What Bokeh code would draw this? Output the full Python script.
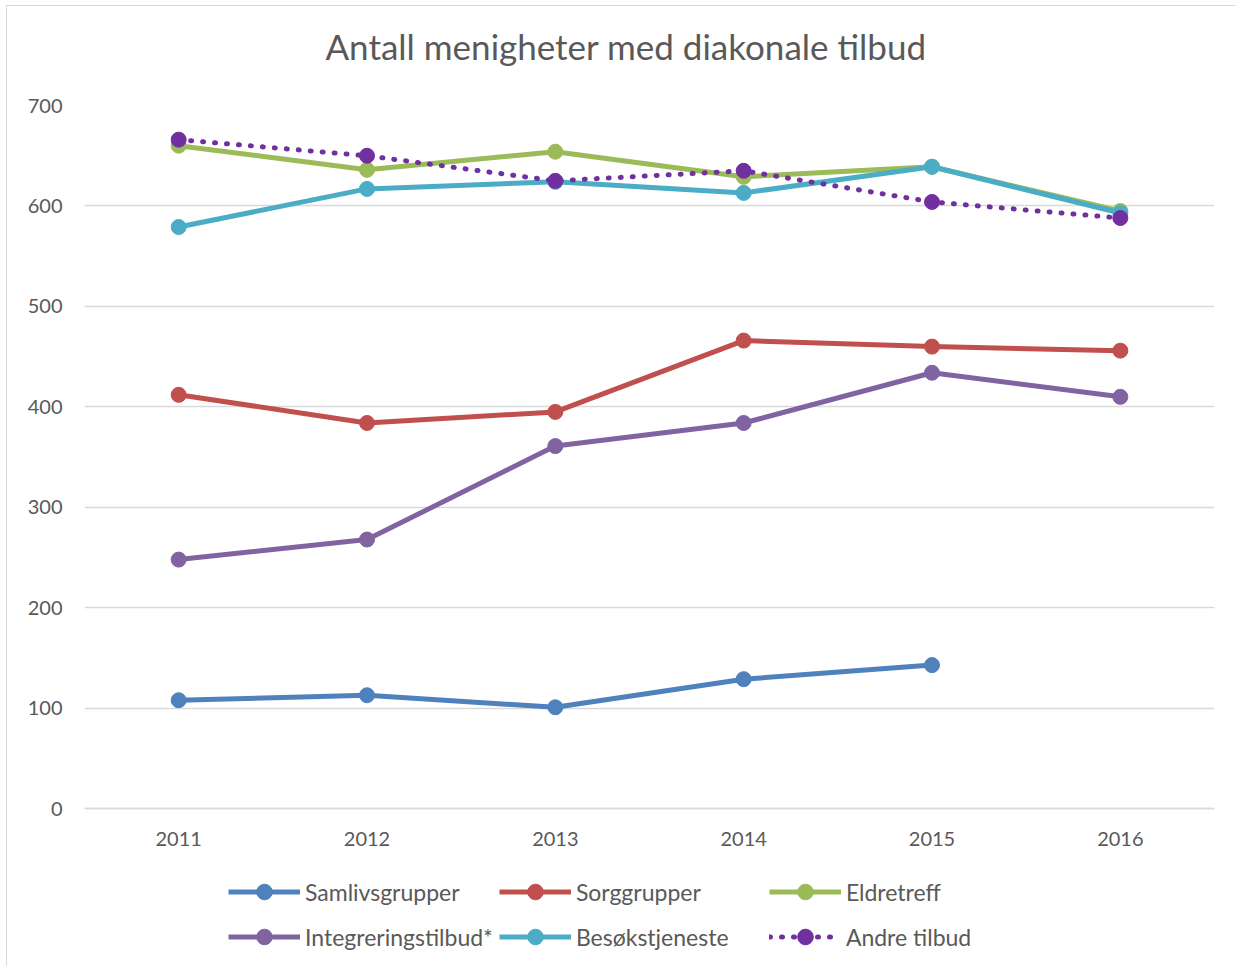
from bokeh.plotting import figure
from bokeh.models import Legend, LegendItem, Range1d, FactorRange, FixedTicker, Title
from bokeh.embed import file_html
from bokeh.resources import INLINE

years = ["2011", "2012", "2013", "2014", "2015", "2016"]
samliv = [108, 113, 101, 129, 143]
sorg = [412, 384, 395, 466, 460, 456]
eldre = [660, 636, 654, 629, 639, 595]
integrering = [248, 268, 361, 384, 434, 410]
besok = [579, 617, 624, 613, 639, 593]
andre = [666, 650, 625, 635, 604, 588]
y_ticks = [0, 100, 200, 300, 400, 500, 600, 700]

names = ["Samlivsgrupper", "Sorggrupper", "Eldretreff", "Integreringstilbud*", "Besøkstjeneste", "Andre tilbud"]
colors = ["#4F81BD", "#C0504D", "#9BBB59", "#8064A2", "#4BACC6", "#7030A0"]
title_text = "Antall menigheter med diakonale tilbud"

FONT = "Lato"
TXT = "#595959"

# frame extends below the value axis so that the legend can sit inside it
p = figure(x_range=FactorRange(*years, range_padding=0), y_range=Range1d(-158, 700),
           width=1230, height=961, output_backend="svg", toolbar_location=None,
           x_axis_location="above",
           min_border_left=77, min_border_right=23, min_border_top=99, min_border_bottom=0)
p.styles = {"border-left": "1px solid #d9d9d9", "border-top": "1px solid #d9d9d9",
            "margin-left": "6px", "margin-top": "5px"}

# spacer between the title and the plot area
p.add_layout(Title(text=" ", text_font_size="1px", standoff=36), "above")

p.title.text = title_text
p.title.align = "left"
p.title.offset = 241
p.title.text_font = FONT
p.title.text_font_size = "35px"
p.title.text_font_style = "normal"
p.title.text_color = TXT
p.title.standoff = 0

p.outline_line_color = None
p.yaxis.ticker = FixedTicker(ticks=y_ticks)
p.ygrid.ticker = FixedTicker(ticks=y_ticks)
p.ygrid.grid_line_color = "#d9d9d9"
p.ygrid.grid_line_width = 1.5
p.xgrid.grid_line_color = None
for ax in (p.xaxis, p.yaxis):
    ax.major_tick_line_color = None
    ax.minor_tick_line_color = None
    ax.major_label_text_font = FONT
    ax.major_label_text_font_size = "20px"
    ax.major_label_text_color = TXT
p.yaxis.axis_line_color = None
p.yaxis.major_label_standoff = 16
p.xaxis.fixed_location = 0
p.xaxis.axis_line_color = "#d9d9d9"
p.xaxis.axis_line_width = 1.5
p.xaxis.major_label_standoff = -43

series = [samliv, sorg, eldre, integrering, besok, andre]
items = []
for name, col, vals in zip(names, colors, series):
    xs = years[:len(vals)]
    if name == "Andre tilbud":
        l = p.line(xs, vals, line_color=col, line_width=5, line_dash="1 11", line_cap="round")
    else:
        l = p.line(xs, vals, line_color=col, line_width=5, line_join="round")
    c = p.scatter(xs, vals, size=15, fill_color=col, line_color=col)
    items.append(LegendItem(label=name, renderers=[l, c]))

legend = Legend(items=items, orientation="horizontal", ncols=3, location=(144, 11),
                label_text_font=FONT, label_text_font_size="23px", label_text_color=TXT,
                glyph_width=72, glyph_height=39, label_height=39, label_width=187,
                label_standoff=5, spacing=6, border_line_color=None,
                background_fill_alpha=0, margin=0, padding=0)
p.add_layout(legend, "center")

open("out.html", "w").write(file_html(p, INLINE))
